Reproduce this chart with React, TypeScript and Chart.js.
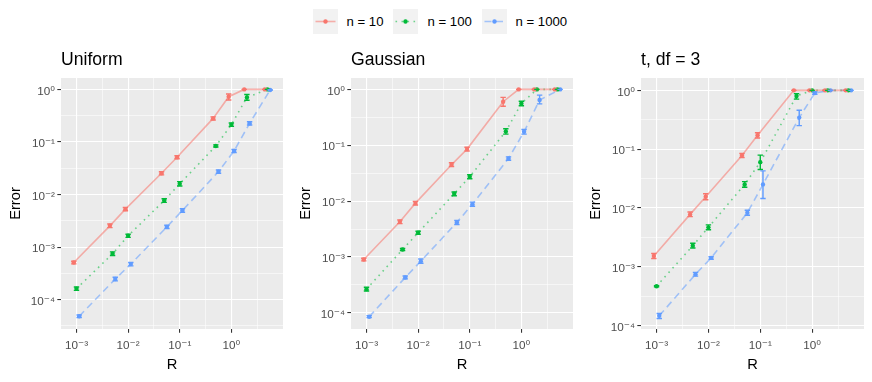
import React, { useEffect, useRef } from 'react';
import { Chart, registerables } from 'chart.js';

Chart.register(...registerables);

// ---------- data ----------
const R_VALUES = [0.001, 0.005, 0.01, 0.05, 0.1, 0.5, 1, 2, 5];
const SERIES_LABELS = ['n = 10', 'n = 100', 'n = 1000'];
const SERIES_COLORS = ['#F8766D', '#00BA38', '#619CFF'];
const PANEL_TITLES = ['Uniform', 'Gaussian', 't, df = 3'];

const X_TICKS = [0.001, 0.01, 0.1, 1];
const X_TICK_LABELS = ['10⁻³', '10⁻²', '10⁻¹', '10⁰'];
const Y_TICKS = [0.0001, 0.001, 0.01, 0.1, 1];
const Y_TICK_LABELS = ['10⁻⁴', '10⁻³', '10⁻²', '10⁻¹', '10⁰'];

// Uniform
const uniformN10 = [5.1e-4, 2.54e-3, 5.27e-3, 0.0254, 0.0512, 0.281, 0.726, 1, 1];
const uniformN10Lo = [4.8e-4, 2.35e-3, 4.9e-3, 0.0237, 0.0478, 0.262, 0.63, 1, 1];
const uniformN10Hi = [5.4e-4, 2.75e-3, 5.65e-3, 0.0272, 0.0548, 0.3, 0.82, 1, 1];
const uniformN100 = [1.62e-4, 7.47e-4, 1.64e-3, 7.69e-3, 0.016, 0.0839, 0.213, 0.705, 1];
const uniformN100Lo = [1.5e-4, 6.9e-4, 1.53e-3, 7.1e-3, 0.0145, 0.08, 0.198, 0.62, 1];
const uniformN100Hi = [1.74e-4, 8.1e-4, 1.76e-3, 8.3e-3, 0.0176, 0.088, 0.229, 0.8, 1];
const uniformN1000 = [4.83e-5, 2.47e-4, 4.75e-4, 2.43e-3, 4.97e-3, 0.0273, 0.0675, 0.226, 0.975];
const uniformN1000Lo = [4.55e-5, 2.28e-4, 4.4e-4, 2.26e-3, 4.6e-3, 0.0255, 0.063, 0.21, 0.96];
const uniformN1000Hi = [5.1e-5, 2.67e-4, 5.1e-4, 2.6e-3, 5.35e-3, 0.0292, 0.072, 0.243, 0.99];

// Gaussian
const gaussN10 = [9.0e-4, 4.26e-3, 9.2e-3, 0.0448, 0.0853, 0.601, 1, 1, 1];
const gaussN10Lo = [8.5e-4, 3.95e-3, 8.5e-3, 0.0415, 0.079, 0.5, 1, 1, 1];
const gaussN10Hi = [9.5e-4, 4.6e-3, 9.9e-3, 0.0485, 0.092, 0.72, 1, 1, 1];
const gaussN100 = [2.65e-4, 1.36e-3, 2.71e-3, 0.0135, 0.0273, 0.177, 0.561, 1, 1];
const gaussN100Lo = [2.45e-4, 1.3e-3, 2.55e-3, 0.0125, 0.0252, 0.158, 0.51, 1, 1];
const gaussN100Hi = [2.87e-4, 1.42e-3, 2.88e-3, 0.0146, 0.0296, 0.198, 0.615, 1, 1];
const gaussN1000 = [8.5e-5, 4.29e-4, 8.4e-4, 4.15e-3, 8.8e-3, 0.058, 0.174, 0.644, 1];
const gaussN1000Lo = [8.2e-5, 4.05e-4, 7.7e-4, 3.8e-3, 8.1e-3, 0.054, 0.158, 0.55, 1];
const gaussN1000Hi = [8.9e-5, 4.55e-4, 9.2e-4, 4.5e-3, 9.6e-3, 0.062, 0.192, 0.79, 1];

// t, df = 3
const tN10 = [1.52e-3, 7.76e-3, 0.0155, 0.0778, 0.172, 1, 1, 1, 1];
const tN10Lo = [1.38e-3, 7.1e-3, 0.0138, 0.072, 0.155, 1, 1, 1, 1];
const tN10Hi = [1.68e-3, 8.5e-3, 0.0174, 0.084, 0.19, 1, 1, 1, 1];
const tN100 = [4.65e-4, 2.28e-3, 4.67e-3, 0.0251, 0.06, 0.8, 1, 1, 1];
const tN100Lo = [4.55e-4, 2.08e-3, 4.25e-3, 0.0225, 0.045, 0.71, 1, 1, 1];
const tN100Hi = [4.75e-4, 2.5e-3, 5.15e-3, 0.028, 0.079, 0.88, 1, 1, 1];
const tN1000 = [1.46e-4, 7.43e-4, 1.41e-3, 8.28e-3, 0.0251, 0.344, 0.9, 1, 1];
const tN1000Lo = [1.31e-4, 6.9e-4, 1.34e-3, 7.5e-3, 0.0145, 0.251, 0.86, 1, 1];
const tN1000Hi = [1.6e-4, 8.0e-4, 1.48e-3, 9.1e-3, 0.0427, 0.458, 0.94, 1, 1];

const PANEL_SERIES = [
  [
    { y: uniformN10, lo: uniformN10Lo, hi: uniformN10Hi },
    { y: uniformN100, lo: uniformN100Lo, hi: uniformN100Hi },
    { y: uniformN1000, lo: uniformN1000Lo, hi: uniformN1000Hi },
  ],
  [
    { y: gaussN10, lo: gaussN10Lo, hi: gaussN10Hi },
    { y: gaussN100, lo: gaussN100Lo, hi: gaussN100Hi },
    { y: gaussN1000, lo: gaussN1000Lo, hi: gaussN1000Hi },
  ],
  [
    { y: tN10, lo: tN10Lo, hi: tN10Hi },
    { y: tN100, lo: tN100Lo, hi: tN100Hi },
    { y: tN1000, lo: tN1000Lo, hi: tN1000Hi },
  ],
];

// ---------- layout / style ----------
const FONT = "'Liberation Sans', Arial, 'DejaVu Sans', sans-serif";
const X_LIMITS = [Math.pow(10, -3.3), Math.pow(10, 1.0)];
const Y_LIMITS = [
  [Math.pow(10, -4.558), Math.pow(10, 0.217)],
  [Math.pow(10, -4.29), Math.pow(10, 0.204)],
  [Math.pow(10, -4.06), Math.pow(10, 0.21)],
];
const PANEL_BOXES = [
  { left: 0, width: 290, padRight: 7 },
  { left: 290, width: 290, padRight: 7 },
  { left: 580, width: 292, padRight: 8 },
];
const DODGE = [-0.052, 0, 0.052]; // decades
const LINE_WIDTH = 1.6;
const DASHES = [[], [1.6, 4.4], [7, 4.5]];
const SVG_DASHES = ['', '1.6 4.4', '7 4.5'];
const CAP = 2.7;

function withAlpha(hex: string, a: number) {
  const n = parseInt(hex.slice(1), 16);
  return `rgba(${(n >> 16) & 255},${(n >> 8) & 255},${n & 255},${a})`;
}
const isMajor = (v: number) => Math.abs(Math.log10(v) - Math.round(Math.log10(v))) < 1e-6;
const SQ10 = Math.sqrt(10);

function buildTicks(majors: number[], min: number, max: number) {
  const all: number[] = [];
  majors.forEach((m) => {
    all.push(m);
    all.push(m * SQ10);
    all.push(m / SQ10);
  });
  return Array.from(new Set(all.map((v) => +v.toPrecision(8))))
    .filter((v) => v >= min * 1.0001 && v <= max * 0.9999)
    .sort((a, b) => a - b);
}

function makeChart(canvas: HTMLCanvasElement, idx: number) {
  const series = PANEL_SERIES[idx];
  const box = PANEL_BOXES[idx];
  const [yMin, yMax] = Y_LIMITS[idx];
  const [xMin, xMax] = X_LIMITS;

  const datasets = series.map((s, i) => ({
    label: SERIES_LABELS[i],
    data: R_VALUES.map((r, j) => ({ x: r * Math.pow(10, DODGE[i]), y: s.y[j] })),
    borderColor: withAlpha(SERIES_COLORS[i], 0.55),
    borderWidth: LINE_WIDTH,
    borderDash: DASHES[i],
    borderCapStyle: 'butt' as const,
    pointRadius: 2.2,
    pointHoverRadius: 2.2,
    pointBackgroundColor: SERIES_COLORS[i],
    pointBorderWidth: 0,
    pointBorderColor: SERIES_COLORS[i],
    tension: 0,
    fill: false,
  }));

  const bgPlugin = {
    id: 'panelBg',
    beforeDraw(chart: any) {
      const { ctx, chartArea: a } = chart;
      ctx.save();
      ctx.fillStyle = '#EBEBEB';
      ctx.fillRect(a.left, a.top, a.right - a.left, a.bottom - a.top);
      ctx.restore();
    },
  };

  const errPlugin = {
    id: 'errBars',
    afterDatasetsDraw(chart: any) {
      const { ctx, chartArea: a } = chart;
      const xs = chart.scales.x;
      const ys = chart.scales.y;
      ctx.save();
      ctx.beginPath();
      ctx.rect(a.left, a.top, a.right - a.left, a.bottom - a.top);
      ctx.clip();
      series.forEach((s, i) => {
        ctx.strokeStyle = SERIES_COLORS[i];
        ctx.lineWidth = 1.42;
        ctx.setLineDash([]);
        R_VALUES.forEach((r, j) => {
          const px = xs.getPixelForValue(r * Math.pow(10, DODGE[i]));
          const y1 = ys.getPixelForValue(s.lo[j]);
          const y2 = ys.getPixelForValue(s.hi[j]);
          ctx.beginPath();
          ctx.moveTo(px, y1);
          ctx.lineTo(px, y2);
          ctx.moveTo(px - CAP, y1);
          ctx.lineTo(px + CAP, y1);
          ctx.moveTo(px - CAP, y2);
          ctx.lineTo(px + CAP, y2);
          ctx.stroke();
        });
      });
      ctx.restore();
    },
  };

  const xTickVals = buildTicks(X_TICKS, xMin, xMax);
  const yTickVals = buildTicks(Y_TICKS, yMin, yMax);

  const labelFor = (v: number, majors: number[], labels: string[]) => {
    const k = majors.findIndex((m) => Math.abs(Math.log10(m) - Math.log10(v)) < 1e-6);
    return k >= 0 ? labels[k] : '';
  };

  const gridCommon = {
    color: '#FFFFFF',
    lineWidth: (c: any) => (c.tick && isMajor(c.tick.value) ? 1.1 : 0.55),
    drawTicks: true,
    tickLength: 3.7,
    tickWidth: 1.07,
    tickColor: (c: any) => (c.tick && isMajor(c.tick.value) ? '#333333' : 'rgba(0,0,0,0)'),
  };

  return new Chart(canvas, {
    type: 'line',
    data: { datasets },
    plugins: [bgPlugin, errPlugin],
    options: {
      animation: false,
      responsive: false,
      devicePixelRatio: 1,
      events: [],
      layout: { padding: { left: 0, right: box.padRight, top: 49.3, bottom: 0 } },
      plugins: {
        legend: { display: false },
        tooltip: { enabled: false },
        title: {
          display: true,
          text: PANEL_TITLES[idx],
          align: 'start',
          fullSize: false,
          color: '#000000',
          font: { family: FONT, size: 17.6, weight: 'normal', lineHeight: 1.2 },
          padding: { top: 0, bottom: 7.58 },
        },
      },
      scales: {
        x: {
          type: 'logarithmic',
          min: xMin,
          max: xMax,
          afterBuildTicks: (scale: any) => {
            scale.ticks = xTickVals.map((v) => ({ value: v }));
          },
          afterFit: (scale: any) => {
            scale.height = 53;
          },
          border: { display: false },
          grid: gridCommon,
          ticks: {
            autoSkip: false,
            maxRotation: 0,
            minRotation: 0,
            padding: 5.8,
            color: '#4D4D4D',
            font: { family: FONT, size: 11.7, lineHeight: 1.2 },
            callback: (v: any) => labelFor(Number(v), X_TICKS, X_TICK_LABELS),
          },
          title: {
            display: true,
            text: 'R',
            color: '#000000',
            font: { family: FONT, size: 14.7, lineHeight: 1.2 },
            padding: { top: 0, bottom: 8.7 },
          },
        },
        y: {
          type: 'logarithmic',
          min: yMin,
          max: yMax,
          afterBuildTicks: (scale: any) => {
            scale.ticks = yTickVals.map((v) => ({ value: v }));
          },
          afterFit: (scale: any) => {
            scale.width = 61;
          },
          border: { display: false },
          grid: gridCommon,
          ticks: {
            autoSkip: false,
            padding: 2.3,
            labelOffset: 2,
            color: '#4D4D4D',
            font: { family: FONT, size: 11.7, lineHeight: 1.2 },
            callback: (v: any) => labelFor(Number(v), Y_TICKS, Y_TICK_LABELS),
          },
          title: {
            display: true,
            text: 'Error',
            color: '#000000',
            font: { family: FONT, size: 14.7, lineHeight: 1.2 },
            padding: { top: 7.4, bottom: 0 },
          },
        },
      },
    } as any,
  });
}

function Panel({ idx }: { idx: number }) {
  const ref = useRef<HTMLCanvasElement | null>(null);
  useEffect(() => {
    if (!ref.current) return;
    const chart = makeChart(ref.current, idx);
    return () => chart.destroy();
  }, [idx]);
  const b = PANEL_BOXES[idx];
  return (
    <canvas
      ref={ref}
      width={b.width}
      height={382}
      style={{ position: 'absolute', left: b.left, top: 0, width: b.width, height: 382 }}
    />
  );
}

const LEGEND_KEY_LEFTS = [312.5, 393, 481.5];
const LEGEND_TEXT_LEFTS = [346.5, 427.5, 515.5];

function LegendKey({ i }: { i: number }) {
  return (
    <svg width={25} height={25} style={{ display: 'block' }}>
      <rect x={0} y={0} width={25} height={25} fill="#F2F2F2" />
      <line
        x1={2.5}
        y1={12.5}
        x2={22.5}
        y2={12.5}
        stroke={SERIES_COLORS[i]}
        strokeOpacity={0.55}
        strokeWidth={LINE_WIDTH}
        strokeDasharray={SVG_DASHES[i] || undefined}
      />
      <circle cx={12.5} cy={12.5} r={2.2} fill={SERIES_COLORS[i]} />
    </svg>
  );
}

export default function App() {
  return (
    <div
      style={{
        position: 'absolute',
        left: 0,
        top: 0,
        width: 872,
        height: 382,
        background: '#FFFFFF',
        overflow: 'hidden',
      }}
    >
      {SERIES_LABELS.map((lab, i) => (
        <React.Fragment key={lab}>
          <div style={{ position: 'absolute', left: LEGEND_KEY_LEFTS[i], top: 9.2 }}>
            <LegendKey i={i} />
          </div>
          <div
            style={{
              position: 'absolute',
              left: LEGEND_TEXT_LEFTS[i],
              top: 9.2,
              height: 25,
              lineHeight: '25px',
              fontFamily: FONT,
              fontSize: 13.2,
              color: '#000000',
              whiteSpace: 'nowrap',
            }}
          >
            {lab}
          </div>
        </React.Fragment>
      ))}
      <Panel idx={0} />
      <Panel idx={1} />
      <Panel idx={2} />
    </div>
  );
}
